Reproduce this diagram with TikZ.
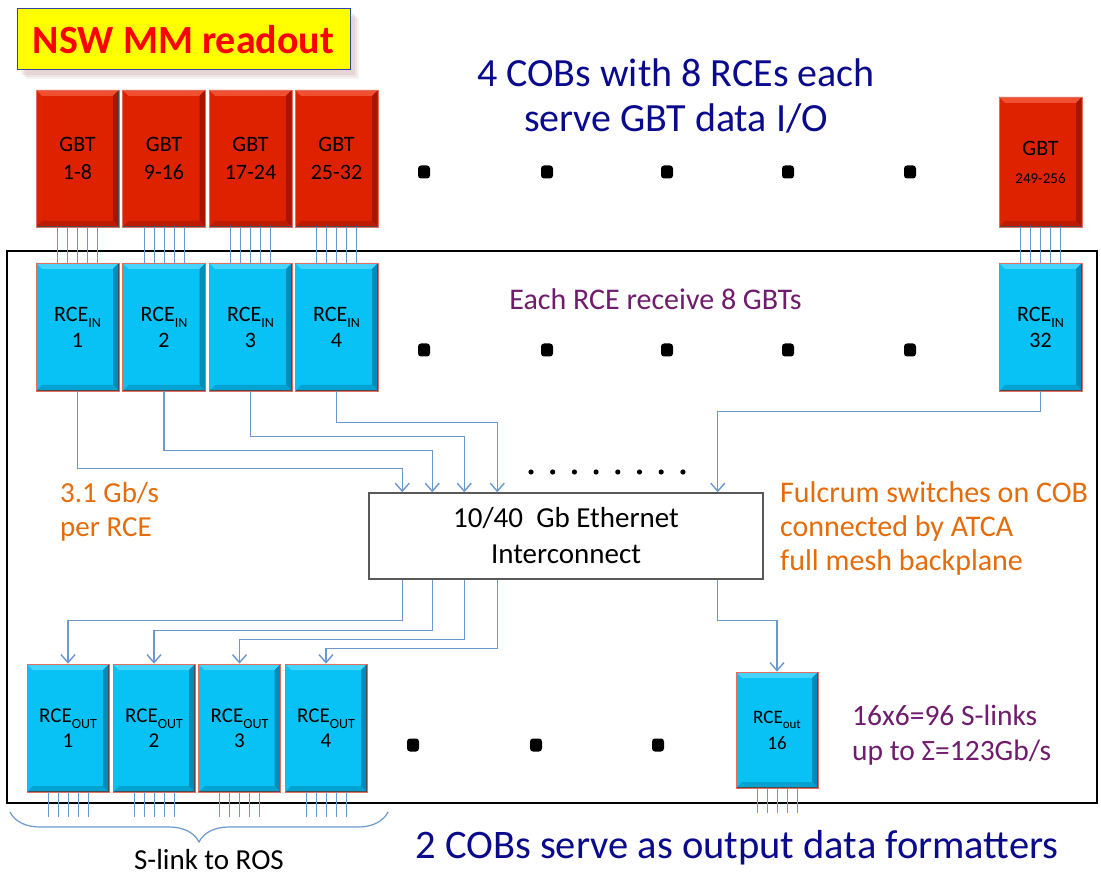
\documentclass[tikz,border=0pt]{standalone}
\usepackage{fontspec}
\setmainfont{Carlito}
\usetikzlibrary{arrows.meta,calc,decorations.pathreplacing}
\definecolor{gbtred}{RGB}{222,34,0}
\definecolor{gbtlight}{RGB}{240,80,48}
\definecolor{gbtdark}{RGB}{165,22,0}
\definecolor{rcecyan}{RGB}{8,194,245}
\definecolor{rcelight}{RGB}{70,212,255}
\definecolor{rcedark}{RGB}{0,140,185}
\definecolor{edgesalmon}{RGB}{225,110,95}
\definecolor{wire}{RGB}{108,152,208}
\definecolor{navytext}{RGB}{10,10,140}
\definecolor{purpletext}{RGB}{112,28,110}
\definecolor{orangetext}{RGB}{228,108,10}
\definecolor{titleyellow}{RGB}{255,255,0}
\definecolor{titleborder}{RGB}{50,70,170}
\newcommand{\subtxt}[2]{\raisebox{-0.28em}{\fontsize{#1}{#1}\selectfont #2}}
\tikzset{
  bev/.style n args={3}{path picture={
    \path (path picture bounding box.north west) coordinate (@nw)
          (path picture bounding box.north east) coordinate (@ne)
          (path picture bounding box.south east) coordinate (@se)
          (path picture bounding box.south west) coordinate (@sw);
    \fill[#1] (@nw) -- (@ne) -- ($(@ne)+(-6,6)$) -- ($(@nw)+(6,6)$) -- cycle;
    \fill[#2] (@ne) -- (@se) -- ($(@se)+(-6,-6)$) -- ($(@ne)+(-6,6)$) -- cycle;
    \fill[#3] (@se) -- (@sw) -- ($(@sw)+(6,-6)$) -- ($(@se)+(-6,-6)$) -- cycle;
    \draw[black!70, line width=1.2pt] (@ne) -- (@se) -- (@sw);
  }},
  gbt/.style={draw=edgesalmon, line width=0.7pt, fill=gbtred, minimum width=83, minimum height=137,
    inner sep=0pt, bev={gbtlight}{gbtdark}{gbtdark!60!gbtred}, align=center, font=\fontsize{22}{28}\selectfont},
  rce/.style={draw=edgesalmon, line width=0.7pt, fill=rcecyan, minimum width=83, minimum height=128,
    inner sep=0pt, bev={rcelight}{rcedark}{rcedark!60!rcecyan}, align=center, font=\fontsize{22}{26}\selectfont},
  thinwire/.style={draw=wire, line width=0.8pt},
  link/.style={draw=wire, line width=1.4pt, -{Straight Barb[length=8pt,width=14pt,line width=1.4pt]}},
  bigdot/.style={fill=black, rounded corners=3pt},
  lbl/.style={inner sep=0pt, anchor=base},
  lblw/.style={inner sep=0pt, anchor=base west},
}
\begin{document}
\begin{tikzpicture}[x=1pt, y=-1pt]
\useasboundingbox (0,0) rectangle (1101,877);
\fill[white] (0,0) rectangle (1101,877);

% title with soft shadow
\foreach \o/\a in {9/0.12,7/0.15,5/0.2} {
  \fill[black!60!red!40, opacity=\a] (17+\o,9+\o) rectangle (350+\o,70+\o);
}
\node[draw=titleborder, line width=1pt, fill=titleyellow, minimum width=333, minimum height=61, inner sep=0pt,
  text=red, font=\fontsize{40}{40}\selectfont\bfseries] (title) at (183.5,39.5) {NSW MM readout};

% main crate frame
\draw[line width=2.8pt, black] (7,251) rectangle (1097,803);

% GBT boxes
\node[gbt] (g1) at (77.5,158.5) {GBT\\1-8};
\node[gbt] (g2) at (164,158.5) {GBT\\9-16};
\node[gbt] (g3) at (250.5,158.5) {GBT\\17-24};
\node[gbt] (g4) at (336.5,158.5) {GBT\\25-32};
\node[gbt, minimum height=130] (g32) at (1040.5,162) {GBT\\{\fontsize{15}{15}\selectfont 249-256}};

% RCE in
\node[rce] (r1) at (77.5,327) {RCE\subtxt{14}{IN}\\1};
\node[rce] (r2) at (164,327) {RCE\subtxt{14}{IN}\\2};
\node[rce] (r3) at (250.5,327) {RCE\subtxt{14}{IN}\\3};
\node[rce] (r4) at (336.5,327) {RCE\subtxt{14}{IN}\\4};
\node[rce] (r32) at (1040.5,327) {RCE\subtxt{14}{IN}\\32};

% GBT -> RCE fibres
\foreach \g/\r in {g1/r1,g2/r2,g3/r3,g4/r4,g32/r32} {
  \foreach \d in {-20,-10,0,10,20} {
    \draw[thinwire] ($(\g.south)+(\d,0)$) -- ($(\r.north)+(\d,0)$);
  }
}

% RCE out
\node[rce, minimum width=82, font=\fontsize{21}{25}\selectfont] (o1) at (68,728) {RCE\subtxt{14}{OUT}\\1};
\node[rce, minimum width=82, font=\fontsize{21}{25}\selectfont] (o2) at (154,728) {RCE\subtxt{14}{OUT}\\2};
\node[rce, minimum width=82, font=\fontsize{21}{25}\selectfont] (o3) at (239.5,728) {RCE\subtxt{14}{OUT}\\3};
\node[rce, minimum width=82, font=\fontsize{21}{25}\selectfont] (o4) at (326,728) {RCE\subtxt{14}{OUT}\\4};
\node[rce, minimum width=82, minimum height=116, font=\fontsize{19}{26}\selectfont] (o16) at (777,730) {RCE\subtxt{13}{out}\\16};

% S-link fibres
\foreach \o in {o1,o2,o3,o4,o16} {
  \foreach \d in {-20,-10,0,10,20} {
    \draw[thinwire] ($(\o.south)+(\d,0)$) -- ($(\o.south)+(\d,25)$);
  }
}

% Ethernet interconnect
\node[draw=black!65, line width=1.5pt, fill=white, minimum width=394, minimum height=86, inner sep=0pt,
  align=center, font=\fontsize{29}{36}\selectfont] (eth) at (566,536) {10/40\ \ Gb Ethernet\\Interconnect};

% RCE in -> switch
\draw[link] (r1.south) |- ($(eth.north west)+(34,-24)$) -- ($(eth.north west)+(34,0)$);
\draw[link] (r2.south) |- ($(eth.north west)+(64,-42)$) -- ($(eth.north west)+(64,0)$);
\draw[link] (r3.south) |- ($(eth.north west)+(96,-56)$) -- ($(eth.north west)+(96,0)$);
\draw[link] (r4.south) |- ($(eth.north west)+(129,-70)$) -- ($(eth.north west)+(129,0)$);
\draw[link] (r32.south) |- ($(eth.north east)+(-46,-81)$) -- ($(eth.north east)+(-46,0)$);

% switch -> RCE out
\draw[link] ($(eth.south west)+(34,0)$) -- ($(eth.south west)+(34,41)$) -| (o1.north);
\draw[link] ($(eth.south west)+(64,0)$) -- ($(eth.south west)+(64,51)$) -| (o2.north);
\draw[link] ($(eth.south west)+(96,0)$) -- ($(eth.south west)+(96,60)$) -| (o3.north);
\draw[link] ($(eth.south west)+(129,0)$) -- ($(eth.south west)+(129,69)$) -| (o4.north);
\draw[link] ($(eth.south east)+(-46,0)$) -- ($(eth.south east)+(-46,41)$) -| (o16.north);

% small dots above switch
\foreach \i in {0,...,7} { \fill[black] (531+\i*21.7,472) circle (2.6); }

% big dots
\foreach \x in {424,547,667,788,910} {
  \fill[bigdot] (\x-6,172-6.5) rectangle (\x+6,172+6.5);
  \fill[bigdot] (\x-6,350-6.5) rectangle (\x+6,350+6.5);
}
\foreach \x in {413,536,658} {
  \fill[bigdot] (\x-6,745-6.5) rectangle (\x+6,745+6.5);
}

% brace
\draw[draw=wire, line width=1.2pt, decorate, decoration={brace, amplitude=30pt, mirror}] (10,812) -- (388,812);

% texts
\node[lbl, text=navytext, font=\fontsize{40}{40}\selectfont] (t1) at (676,87) {4 COBs with 8 RCEs each};
\node[lbl, text=navytext, font=\fontsize{40}{40}\selectfont] (t2) at (676,132) {serve GBT data I/O};
\node[lbl, text=purpletext, font=\fontsize{30}{30}\selectfont] (t3) at (655.5,310) {Each RCE receive 8 GBTs};
\node[lblw, text=orangetext, font=\fontsize{29}{29}\selectfont] (t4) at (60,502) {3.1 Gb/s};
\node[lblw, text=orangetext, font=\fontsize{29}{29}\selectfont] (t5) at (60,536) {per RCE};
\node[lblw, text=orangetext, font=\fontsize{30}{30}\selectfont] (t6) at (780,502) {Fulcrum switches on COB};
\node[lblw, text=orangetext, font=\fontsize{30}{30}\selectfont] (t7) at (780,536) {connected by ATCA};
\node[lblw, text=orangetext, font=\fontsize{30}{30}\selectfont] (t8) at (780,570) {full mesh backplane};
\node[lblw, text=purpletext, font=\fontsize{29.5}{29.5}\selectfont] (t9) at (852,725) {16x6=96 S-links};
\node[lblw, text=purpletext, font=\fontsize{29.5}{29.5}\selectfont] (t10) at (852,760) {up to Σ=123Gb/s};
\node[lbl, text=navytext, font=\fontsize{40.5}{40.5}\selectfont] (t11) at (737,858) {2 COBs serve as output data formatters};
\node[lbl, text=black, font=\fontsize{29}{29}\selectfont] (t12) at (209,869) {S-link to ROS};
\end{tikzpicture}
\end{document}
